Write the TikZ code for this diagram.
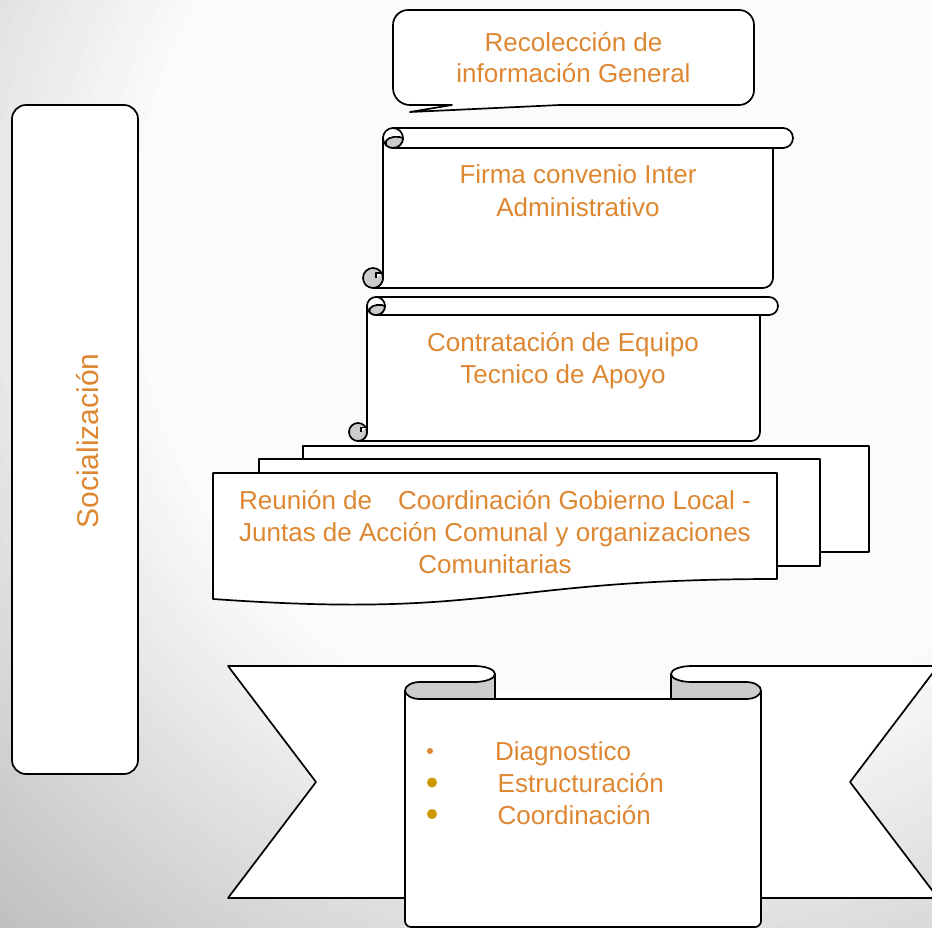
\documentclass[tikz,border=0pt]{standalone}
\usepackage{fontspec}
\setmainfont{Liberation Sans}
\definecolor{txtor}{RGB}{222,135,50}
\definecolor{bulg}{RGB}{204,153,0}
\definecolor{curlg}{RGB}{204,204,204}
\newcommand\myscroll[5]{%
  \pgfmathsetmacro\sr{#5/2}%
  \draw[shp] (#1,{#3+\sr}) -- (#1,{#4-\sr}) arc[start angle=0,end angle=90,radius=\sr] -- ({#2-\sr},#4) arc[start angle=90,end angle=0,radius=\sr] -- (#2,{#3+\sr}) -- cycle;
  \draw[shp] ({#1+\sr},#3) -- ({#2+\sr},#3) arc[start angle=-90,end angle=90,radius=\sr] -- ({#1+\sr},{#3+#5}) -- cycle;
  \draw[shp] ({#1+\sr},{#3+\sr}) circle[radius=\sr];
  \draw[shp,fill=curlg] ({#1+0.3*\sr},{#3+1.3*\sr}) .. controls ({#1+0.6*\sr},{#3+0.8*\sr}) and ({#1+1.6*\sr},{#3+0.8*\sr}) .. ({#1+2*\sr},{#3+\sr}) arc[start angle=0,end angle=135,radius=\sr] -- cycle;
  \draw[shp,fill=curlg] ({#1-\sr},{#4-\sr}) circle[radius=\sr];
  \draw[shp] ({#1-\sr+3},{#4-\sr}) -- ({#1-\sr+3},{#4-1.5*\sr}) -- (#1,{#4-1.5*\sr});
}
\begin{document}
\begin{tikzpicture}[x=1pt,y=-1pt,
  shp/.style={draw=black,fill=white,line width=1.7pt,line join=round},
  ln/.style={draw=black,line width=1.7pt,line join=round},
  lbl/.style={text=txtor,font=\fontsize{26}{32}\selectfont,inner sep=0pt,anchor=base},
  dot/.style={circle,inner sep=0pt,draw=none}]
\useasboundingbox (0,0) rectangle (932,928);
\begin{scope}
  \clip (0,0) rectangle (932,928);
  % background radial gradient (rings)
  \fill[black!48] (0,0) rectangle (932,928);
  \foreach \i in {0,...,70}{%
    \pgfmathsetmacro\rr{1200-10*\i}%
    \pgfmathsetmacro\gv{min(1,1-0.26*(\rr-470)/480)}%
    \definecolor{ringc}{gray}{\gv}%
    \fill[ringc] (630,250) circle[radius=\rr];
  }

  % Socializacion box
  \draw[shp,rounded corners=14pt] (12,105) rectangle (138,774);
  \node[lbl,font=\fontsize{30}{36}\selectfont,rotate=90] (soc) at (98,441) {Socialización};

  % Box 1: callout
  \draw[shp] (408,10) -- (739,10) arc[start angle=-90,end angle=0,radius=15] -- (754,90) arc[start angle=0,end angle=90,radius=15] -- (560,105) -- (410,112) -- (452,105) -- (410,105) arc[start angle=90,end angle=180,radius=17] -- (393,25) arc[start angle=180,end angle=270,radius=15] -- cycle;
  \node[lbl] (t1a) at (573.5,51.5) {Recolección de};
  \node[lbl] (t1b) at (573.5,82.5) {información General};

  % Box 2 and 3: scrolls
  \myscroll{383}{773}{128}{288}{20}
  \node[lbl] (t2a) at (578,184) {Firma convenio Inter};
  \node[lbl] (t2b) at (578,216.5) {Administrativo};
  \myscroll{367}{760}{297}{441}{18}
  \node[lbl] (t3a) at (563,351.5) {Contratación de Equipo};
  \node[lbl] (t3b) at (563,383) {Tecnico de Apoyo};

  % Box 4: multi-document
  \draw[shp] (303,446) rectangle (869,552);
  \draw[shp] (259,459) rectangle (820,566);
  \draw[shp] (213,473) -- (777,473) -- (777,579) .. controls (495,579) and (495,619) .. (213,599) -- cycle;
  \node[lbl] (t4a) at (495,509) {Reunión de\hspace{26pt}Coordinación Gobierno Local -};
  \node[lbl] (t4b) at (495,541) {Juntas de Acción Comunal y organizaciones};
  \node[lbl] (t4c) at (495,573) {Comunitarias};

  % Ribbon: flaps
  \fill[white] (228,666) -- (474.5,666) arc[start angle=-90,end angle=0,x radius=20.5,y radius=8] -- (495,898) -- (228,898) -- (316,782) -- cycle;
  \draw[ln] (405,898) -- (228,898) -- (316,782) -- (228,666) -- (474.5,666) arc[start angle=-90,end angle=0,x radius=20.5,y radius=8] -- (495,699);
  \fill[white] (938,666) -- (691.5,666) arc[start angle=-90,end angle=-180,x radius=20.5,y radius=8] -- (671,898) -- (938,898) -- (850,782) -- cycle;
  \draw[ln] (761,898) -- (938,898) -- (850,782) -- (938,666) -- (691.5,666) arc[start angle=-90,end angle=-180,x radius=20.5,y radius=8] -- (671,699);
  % panel
  \fill[white] (405,690.5) rectangle (761,927);
  \draw[ln,rounded corners=6pt] (405,690.5) -- (405,927) -- (761,927) -- (761,690.5);
  % folds
  \draw[ln,fill=curlg] (495,674) arc[start angle=0,end angle=90,x radius=20.5,y radius=8] -- (420,682) arc[start angle=-90,end angle=-270,x radius=15,y radius=8.5] -- (495,699) -- cycle;
  \draw[ln,fill=curlg] (671,674) arc[start angle=180,end angle=90,x radius=20.5,y radius=8] -- (746,682) arc[start angle=-90,end angle=90,x radius=15,y radius=8.5] -- (671,699) -- cycle;
  \draw[ln] (495,699) -- (671,699);

  % bullets
  \node[dot,fill=txtor,minimum size=6pt] (b1) at (430,751) {};
  \node[dot,fill=bulg,minimum size=10pt] (b2) at (432,782.5) {};
  \node[dot,fill=bulg,minimum size=10pt] (b3) at (432,814) {};
  \node[lbl,anchor=base west] (d1) at (495,760) {Diagnostico};
  \node[lbl,anchor=base west] (d2) at (497.5,792.5) {Estructuración};
  \node[lbl,anchor=base west] (d3) at (497.5,824) {Coordinación};
\end{scope}
\end{tikzpicture}
\end{document}
